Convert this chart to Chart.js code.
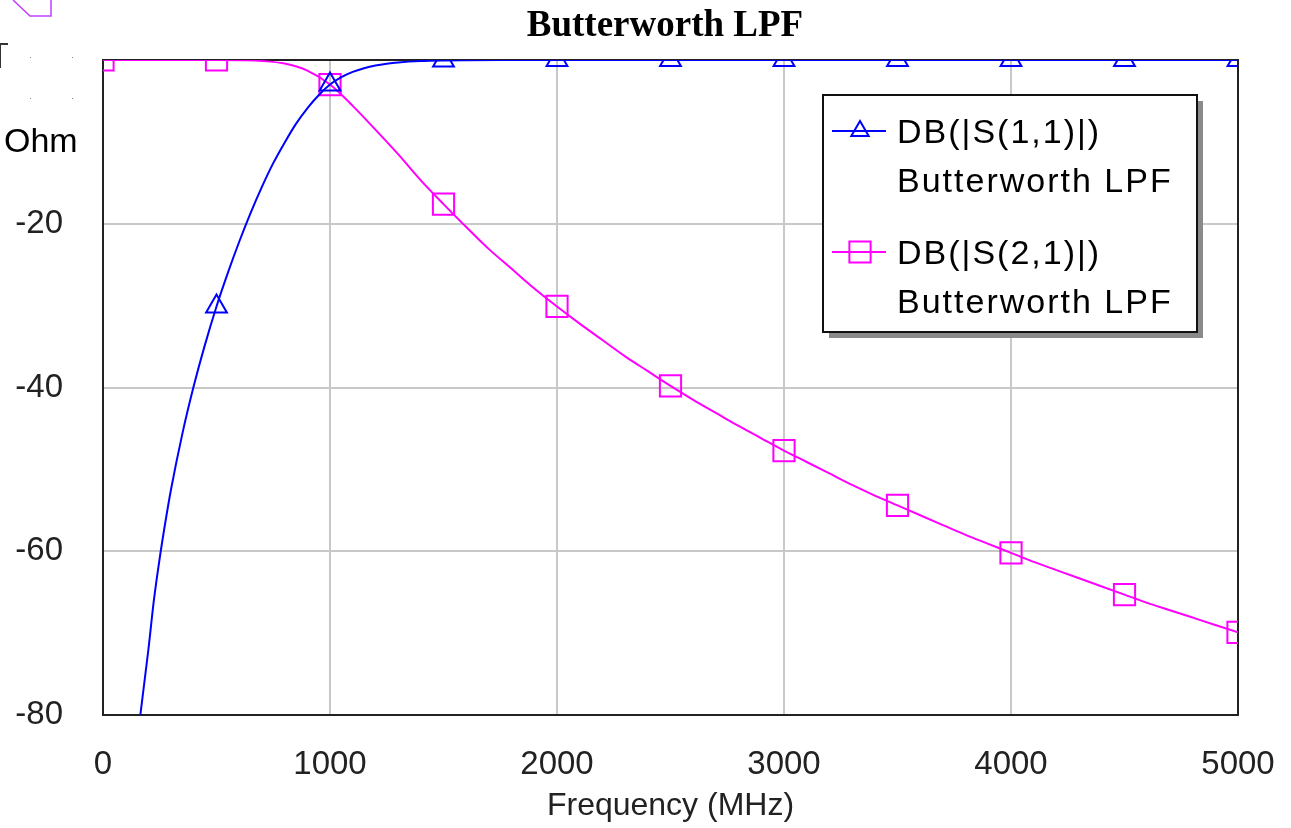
<!DOCTYPE html>
<html>
<head>
<meta charset="utf-8">
<script src="https://cdn.jsdelivr.net/npm/chart.js@4"></script>
<style>
  html, body { margin: 0; padding: 0; background: #fff; }
  #wrap { position: relative; width: 1291px; height: 828px; }
</style>
</head>
<body>
<div id="wrap"><canvas id="chart"></canvas></div>
<script>
// Frequency (MHz) and dB values
const s11Freq = [160, 180, 200, 225, 250, 275, 300, 350, 400, 450, 500, 550, 600, 650, 700, 750, 800, 850, 900, 950,
  1000, 1050, 1100, 1150, 1200, 1250, 1300, 1400, 1500, 1600, 1800, 2000, 2500, 3000, 3500, 4000, 4500, 5000];
const s11Db = [-81, -76.5, -72, -65.8, -60.8, -56.4, -52.4, -45.6, -39.8, -34.7, -30.1, -26.0, -22.2, -18.7, -15.5, -12.6, -10.1, -7.8, -5.9, -4.3,
  -3.0, -2.1, -1.45, -1.0, -0.67, -0.45, -0.3, -0.13, -0.06, -0.03, -0.01, 0, 0, 0, 0, 0, 0, 0];

const s21Freq = [0, 100, 200, 300, 400, 500, 600, 700, 800, 900, 1000, 1100, 1200, 1300, 1400, 1500, 1600, 1700, 1800, 1900,
  2000, 2100, 2200, 2300, 2400, 2500, 2600, 2700, 2800, 2900, 3000, 3100, 3200, 3300, 3400, 3500, 3600, 3700, 3800, 3900,
  4000, 4100, 4200, 4300, 4400, 4500, 4600, 4700, 4800, 4900, 5000];
const s21Db = [0, 0, 0, 0, 0, 0, -0.03, -0.12, -0.44, -1.3, -3.0, -5.6, -8.5, -11.5, -14.7, -17.6, -20.4, -23.1, -25.5, -27.9,
  -30.1, -32.2, -34.2, -36.2, -38.0, -39.8, -41.5, -43.1, -44.7, -46.2, -47.7, -49.1, -50.5, -51.9, -53.2, -54.4, -55.6, -56.8, -58.0, -59.1,
  -60.2, -61.3, -62.3, -63.3, -64.3, -65.3, -66.3, -67.2, -68.1, -69.0, -69.9];

const xTicks = [0, 1000, 2000, 3000, 4000, 5000];
const yTicks = [0, -20, -40, -60, -80];

const seriesNames = [['DB(|S(1,1)|)', 'Butterworth LPF'], ['DB(|S(2,1)|)', 'Butterworth LPF']];
const titleText = 'Butterworth LPF';

const BLUE = '#0000ff';
const MAGENTA = '#ff00ff';

function toPoints(xs, ys) {
  return xs.map((x, i) => ({ x: x, y: ys[i] }));
}

// marker only on every 500 MHz
function markerRadius(r) {
  return ctx => (ctx.raw && ctx.raw.x % 500 === 0 ? r : 0);
}

// frame drawn under the curves (curves overlap the top edge)
const framePlugin = {
  id: 'frame',
  beforeDatasetsDraw(chart) {
    const { ctx, chartArea: a } = chart;
    ctx.save();
    ctx.strokeStyle = '#222';
    ctx.lineWidth = 2;
    ctx.strokeRect(a.left, a.top, a.right - a.left, a.bottom - a.top);
    ctx.restore();
  }
};

// boxed legend with drop shadow, two lines per entry
const boxLegend = {
  id: 'boxLegend',
  afterDatasetsDraw(chart) {
    const ctx = chart.ctx;
    const bx = 823, by = 95, bw = 374, bh = 237;
    ctx.save();
    ctx.fillStyle = '#8a8a8a';
    ctx.fillRect(bx + 6, by + 6, bw, bh);
    ctx.fillStyle = '#fff';
    ctx.fillRect(bx, by, bw, bh);
    ctx.strokeStyle = '#111';
    ctx.lineWidth = 2;
    ctx.strokeRect(bx, by, bw, bh);

    const entries = [
      { color: BLUE, style: 'triangle', r: 10, y: 131 },
      { color: MAGENTA, style: 'rect', r: 15, y: 252 }
    ];
    entries.forEach((e, i) => {
      ctx.strokeStyle = e.color;
      ctx.lineWidth = 2;
      ctx.beginPath();
      ctx.moveTo(832, e.y);
      ctx.lineTo(886, e.y);
      ctx.stroke();
      ctx.fillStyle = 'rgba(0,0,0,0)';
      Chart.helpers.drawPoint(ctx, {
        pointStyle: e.style, radius: e.r, borderWidth: 2, rotation: 0
      }, 860, e.y);
      ctx.fillStyle = '#000';
      ctx.font = '34px "Liberation Sans", Arial, sans-serif';
      ctx.letterSpacing = '2px';
      ctx.textAlign = 'left';
      ctx.textBaseline = 'alphabetic';
      ctx.fillText(seriesNames[i][0], 897, e.y + 12);
      ctx.fillText(seriesNames[i][1], 897, e.y + 61);
    });
    ctx.restore();
  }
};

// title and leftover bits of the original window at top-left
const decor = {
  id: 'decor',
  afterDraw(chart) {
    const ctx = chart.ctx;
    ctx.save();
    ctx.fillStyle = '#000';
    ctx.font = 'bold 37px "Liberation Serif", "Times New Roman", serif';
    ctx.textAlign = 'center';
    ctx.textBaseline = 'alphabetic';
    ctx.fillText(titleText, 665, 36);

    ctx.font = '34px "Liberation Sans", Arial, sans-serif';
    ctx.textAlign = 'left';
    ctx.fillText('Ohm', 4, 152);

    ctx.strokeStyle = '#333';
    ctx.lineWidth = 2;
    ctx.beginPath();
    ctx.moveTo(0, 44); ctx.lineTo(8, 44);
    ctx.moveTo(0, 44); ctx.lineTo(0, 68);
    ctx.stroke();

    ctx.fillStyle = '#888';
    [[30, 57], [72, 57], [30, 98], [72, 98]].forEach(p => ctx.fillRect(p[0], p[1], 1, 1));

    ctx.strokeStyle = '#c040ff';
    ctx.lineWidth = 1.5;
    ctx.beginPath();
    ctx.moveTo(13, 0); ctx.lineTo(30, 16); ctx.lineTo(51, 16); ctx.lineTo(51, 0);
    ctx.stroke();
    ctx.restore();
  }
};

new Chart(document.getElementById('chart'), {
  type: 'line',
  data: {
    datasets: [
      {
        label: seriesNames[0].join(' '),
        data: toPoints(s11Freq, s11Db),
        borderColor: BLUE,
        borderWidth: 2,
        pointStyle: 'triangle',
        pointRadius: markerRadius(12),
        pointBorderColor: BLUE,
        pointBackgroundColor: 'rgba(0,0,0,0)',
        pointBorderWidth: 2,
        cubicInterpolationMode: 'monotone'
      },
      {
        label: seriesNames[1].join(' '),
        data: toPoints(s21Freq, s21Db),
        borderColor: MAGENTA,
        borderWidth: 2,
        pointStyle: 'rect',
        pointRadius: markerRadius(15),
        pointBorderColor: MAGENTA,
        pointBackgroundColor: 'rgba(0,0,0,0)',
        pointBorderWidth: 2,
        cubicInterpolationMode: 'monotone'
      }
    ]
  },
  options: {
    responsive: true,
    maintainAspectRatio: false,
    animation: false,
    events: [],
    layout: { padding: { top: 60, right: 53, bottom: 0, left: 0 } },
    plugins: {
      legend: { display: false },
      title: { display: false },
      tooltip: { enabled: false }
    },
    scales: {
      x: {
        type: 'linear',
        min: 0,
        max: 5000,
        afterFit: s => { s.height = 113; s.paddingLeft = 0; s.paddingRight = 0; },
        afterBuildTicks: s => { s.ticks = xTicks.map(v => ({ value: v })); },
        grid: { color: '#c8c8c8', lineWidth: 2, drawTicks: false },
        border: { display: false },
        ticks: {
          padding: 30,
          maxRotation: 0,
          color: '#222',
          font: { family: '"Liberation Sans", Arial, sans-serif', size: 33 },
          callback: v => String(v)
        },
        title: {
          display: true,
          text: 'Frequency (MHz)',
          color: '#222',
          padding: { top: 0, bottom: 3 },
          font: { family: '"Liberation Sans", Arial, sans-serif', size: 32 }
        }
      },
      y: {
        type: 'linear',
        min: -80,
        max: 0,
        afterFit: s => { s.width = 103; s.paddingTop = 0; s.paddingBottom = 0; },
        afterBuildTicks: s => { s.ticks = yTicks.map(v => ({ value: v })); },
        grid: { color: '#c8c8c8', lineWidth: 2, drawTicks: false },
        border: { display: false },
        ticks: {
          padding: 40,
          color: '#222',
          font: { family: '"Liberation Sans", Arial, sans-serif', size: 33 },
          callback: v => (v === 0 ? '' : String(v))
        }
      }
    }
  },
  plugins: [framePlugin, boxLegend, decor]
});
</script>
</body>
</html>
